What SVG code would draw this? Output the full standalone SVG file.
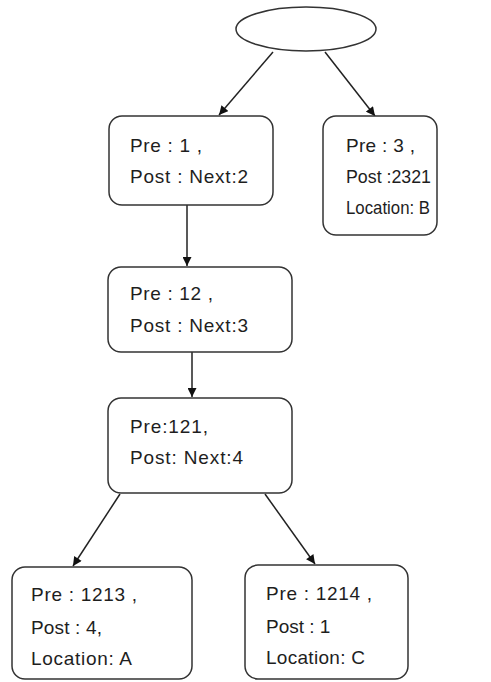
<svg xmlns="http://www.w3.org/2000/svg" width="491" height="682" viewBox="0 0 491 682">
<style>
.box{fill:#fff;stroke:#333;stroke-width:1.5}
.t{font-family:"Liberation Sans",Arial,sans-serif;font-size:19px;fill:#1e1e1e}
.c{stroke:#222;stroke-width:1.5;fill:none;marker-end:url(#ah)}
</style>
<defs>
<marker id="ah" viewBox="0 0 10 10" refX="10" refY="5" markerWidth="10" markerHeight="9" markerUnits="userSpaceOnUse" orient="auto">
<path d="M0,0 L10,5 L0,10 z" fill="#111"/>
</marker>
</defs>
<rect width="491" height="682" fill="#fff"/>
<g id="connectors">
<line class="c" x1="273" y1="52" x2="219" y2="115"/>
<line class="c" x1="325" y1="52" x2="375" y2="116"/>
<line class="c" x1="187" y1="205" x2="187" y2="266"/>
<line class="c" x1="192" y1="352" x2="192" y2="397"/>
<line class="c" x1="120" y1="494" x2="73" y2="566"/>
<line class="c" x1="265" y1="494" x2="315" y2="564"/>
</g>
<g id="root"><ellipse class="box" cx="306" cy="29" rx="70" ry="22"/></g>
<g id="n1"><rect class="box" x="109" y="116" width="164" height="89" rx="13"/>
<text class="t" x="130" y="152" textLength="72" lengthAdjust="spacing">Pre : 1 ,</text><text class="t" x="130" y="183" textLength="118" lengthAdjust="spacing">Post : Next:2</text></g>
<g id="n2"><rect class="box" x="323" y="116" width="114" height="119" rx="13"/>
<text class="t" x="346" y="152" textLength="69" lengthAdjust="spacing">Pre : 3 ,</text><text class="t" x="346" y="183" textLength="85" lengthAdjust="spacingAndGlyphs">Post :2321</text><text class="t" x="346" y="214" textLength="84" lengthAdjust="spacingAndGlyphs">Location: B</text></g>
<g id="n3"><rect class="box" x="108" y="267" width="184" height="85" rx="13"/>
<text class="t" x="130" y="300" textLength="83" lengthAdjust="spacing">Pre : 12 ,</text><text class="t" x="130" y="332" textLength="118" lengthAdjust="spacing">Post : Next:3</text></g>
<g id="n4"><rect class="box" x="108" y="398" width="184" height="95" rx="13"/>
<text class="t" x="130" y="433" textLength="78" lengthAdjust="spacing">Pre:121,</text><text class="t" x="130" y="464" textLength="113" lengthAdjust="spacing">Post: Next:4</text></g>
<g id="n5"><rect class="box" x="12" y="567" width="180" height="112" rx="13"/>
<text class="t" x="31" y="601" textLength="106" lengthAdjust="spacing">Pre : 1213 ,</text><text class="t" x="31" y="634" textLength="71" lengthAdjust="spacing">Post : 4,</text><text class="t" x="31" y="665" textLength="101" lengthAdjust="spacing">Location: A</text></g>
<g id="n6"><rect class="box" x="245" y="565" width="163" height="114" rx="13"/>
<text class="t" x="266" y="600" textLength="106" lengthAdjust="spacing">Pre : 1214 ,</text><text class="t" x="266" y="633">Post : 1</text><text class="t" x="266" y="664" textLength="99" lengthAdjust="spacing">Location: C</text></g>
</svg>
